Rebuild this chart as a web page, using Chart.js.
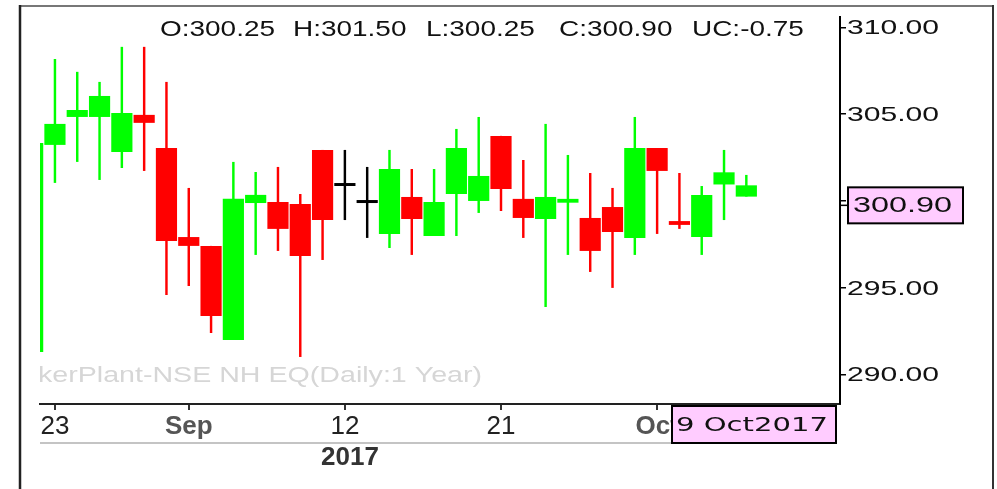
<!DOCTYPE html>
<html>
<head>
<meta charset="utf-8">
<script src="https://cdn.jsdelivr.net/npm/chart.js@4.4.0/dist/chart.umd.min.js"></script>
<style>
  html, body { margin: 0; padding: 0; background: #fff; }
  canvas { display: block; }
</style>
</head>
<body>
<canvas id="chart" width="997" height="489"></canvas>
<script>
// daily candles, 22 Aug - 9 Oct 2017
const dates = [
  '2017-08-22', '2017-08-23', '2017-08-24', '2017-08-28', '2017-08-29', '2017-08-30', '2017-08-31',
  '2017-09-01', '2017-09-04', '2017-09-05', '2017-09-06', '2017-09-07', '2017-09-08',
  '2017-09-11', '2017-09-12', '2017-09-13', '2017-09-14', '2017-09-15',
  '2017-09-18', '2017-09-19', '2017-09-20', '2017-09-21', '2017-09-22',
  '2017-09-25', '2017-09-26', '2017-09-27', '2017-09-28', '2017-09-29',
  '2017-10-03', '2017-10-04', '2017-10-05', '2017-10-06', '2017-10-09'
];
const opens = [291.30, 303.23, 304.84, 304.84, 302.82, 304.96, 303.05, 297.92, 297.41, 291.99, 299.88,
  299.94, 299.83, 302.94, 300.86, 299.88, 298.10, 300.23, 297.98, 300.40, 300.00, 303.75,
  300.12, 298.96, 299.90, 299.02, 299.65, 297.87, 303.05, 298.84, 297.92, 300.95, 300.25];
const highs = [304.20, 308.18, 307.44, 306.86, 308.88, 308.88, 306.86, 300.75, 297.41, 302.25, 301.67,
  301.96, 300.40, 302.94, 302.94, 301.96, 302.94, 301.84, 301.84, 304.15, 304.84, 303.75,
  302.36, 304.44, 302.65, 301.61, 300.75, 304.84, 303.05, 301.61, 300.86, 302.94, 301.50];
const lows = [290.90, 301.04, 302.25, 301.21, 301.90, 301.73, 294.58, 295.10, 292.39, 291.99, 296.89,
  297.12, 291.01, 296.60, 298.90, 297.87, 297.29, 296.89, 297.98, 297.98, 299.31, 299.42,
  297.87, 293.89, 296.89, 295.91, 294.99, 296.89, 298.10, 298.39, 296.89, 298.90, 300.25];
const closes = [303.34, 304.44, 305.24, 306.05, 305.07, 304.50, 297.69, 297.41, 293.37, 300.12, 300.35,
  298.39, 296.83, 298.90, 300.86, 299.88, 301.84, 298.96, 299.94, 303.05, 301.44, 300.69,
  299.02, 300.23, 300.12, 297.12, 298.21, 303.05, 301.73, 298.62, 300.35, 301.65, 300.90];

const tickDates = ['2017-08-23', '2017-09-01', '2017-09-12', '2017-09-21', '2017-10-03'];
const tickLabels = ['23', 'Sep', '12', '21', 'Oct'];
const boldLabels = ['Sep', 'Oct'];
const yTicks = [290, 295, 300, 305, 310];
const monthNames = ['Jan', 'Feb', 'Mar', 'Apr', 'May', 'Jun', 'Jul', 'Aug', 'Sep', 'Oct', 'Nov', 'Dec'];
const yearLabel = '2017';
const sourceLabel = 'TickerPlant-NSE NH EQ(Daily:1 Year)';

const FONT = '"Liberation Sans", Arial, sans-serif';
const GREEN = '#00ff00';
const RED = '#ff0000';

const candleColors = opens.map((o, i) => {
  if (o === closes[i]) return '#000000';
  return closes[i] > o ? GREEN : RED;
});

const bodies = dates.map((d, i) => ({ x: i, y: [opens[i], closes[i]] }));
const wicks = dates.map((d, i) => ({ x: i, y: [lows[i], highs[i]] }));

// draw text squeezed/stretched horizontally
function stretched(ctx, text, x, y, sx) {
  ctx.save();
  ctx.translate(x, y);
  ctx.scale(sx, 1);
  ctx.fillText(text, 0, 0);
  ctx.restore();
}

function line(ctx, x1, y1, x2, y2, color, width) {
  ctx.save();
  ctx.strokeStyle = color;
  ctx.lineWidth = width;
  ctx.beginPath();
  ctx.moveTo(x1, y1);
  ctx.lineTo(x2, y2);
  ctx.stroke();
  ctx.restore();
}

const decorations = {
  id: 'decorations',
  beforeDatasetsDraw(chart) {
    const { ctx, chartArea: a } = chart;
    // faint source watermark, clipped on the left
    ctx.save();
    ctx.beginPath();
    ctx.rect(a.left, a.top, a.right - a.left, a.bottom - a.top);
    ctx.clip();
    ctx.font = '22px ' + FONT;
    ctx.fillStyle = '#d6d6d6';
    ctx.textBaseline = 'middle';
    const hidden = sourceLabel.slice(0, 3);
    const sx = 444 / ctx.measureText(sourceLabel.slice(3)).width;
    stretched(ctx, sourceLabel, 38 - ctx.measureText(hidden).width * sx, 376, sx);
    ctx.restore();
  },
  afterDraw(chart) {
    const { ctx, chartArea: a } = chart;
    const yScale = chart.scales.y;
    const last = dates.length - 1;

    // outer frame
    line(ctx, 20, 6, 993, 6, '#777', 2);
    line(ctx, 20, 5, 20, 489, '#222', 2.5);
    line(ctx, 993, 5, 993, 489, '#333', 2);

    // OHLC header
    ctx.save();
    ctx.font = '22px ' + FONT;
    ctx.fillStyle = '#111';
    ctx.textBaseline = 'middle';
    const header = [
      'O:' + opens[last].toFixed(2),
      'H:' + highs[last].toFixed(2),
      'L:' + lows[last].toFixed(2),
      'C:' + closes[last].toFixed(2),
      'UC:' + (closes[last] - closes[last - 1]).toFixed(2)
    ];
    const hsx = 115 / ctx.measureText(header[0]).width;
    header.forEach((t, i) => stretched(ctx, t, 160 + i * 133, 30, hsx));

    // y tick labels
    ctx.font = '21px ' + FONT;
    const ysx = 92 / ctx.measureText('310.00').width;
    yTicks.forEach(v => {
      stretched(ctx, v.toFixed(2), a.right + 7, yScale.getPixelForValue(v) + 1, ysx);
    });

    // last price box
    const py = yScale.getPixelForValue(closes[last]) + 20;
    line(ctx, a.right, py, a.right + 8, py, '#000', 1.5);
    ctx.fillStyle = '#ffccff';
    ctx.fillRect(848, py - 18, 115, 36);
    ctx.strokeStyle = '#000';
    ctx.lineWidth = 2;
    ctx.strokeRect(848, py - 18, 115, 36);
    ctx.fillStyle = '#111';
    ctx.font = '22px ' + FONT;
    const ptxt = closes[last].toFixed(2);
    stretched(ctx, ptxt, 853, py + 1, 99 / ctx.measureText(ptxt).width);

    // year row
    line(ctx, a.left, 443, 672, 443, '#c4c4c4', 2);
    ctx.font = 'bold 26px ' + FONT;
    ctx.fillStyle = '#333';
    ctx.textAlign = 'center';
    ctx.fillText(yearLabel, 350, 458);
    ctx.textAlign = 'left';

    // last date box
    ctx.fillStyle = '#ffccff';
    ctx.fillRect(672, 406, 164, 37);
    ctx.strokeRect(672, 406, 164, 37);
    const d = new Date(dates[last] + 'T00:00:00');
    const dtxt = d.getDate() + ' ' + monthNames[d.getMonth()] + d.getFullYear();
    ctx.font = '20px "DejaVu Sans", sans-serif';
    ctx.fillStyle = '#111';
    stretched(ctx, dtxt, 676, 426, 152 / ctx.measureText(dtxt).width);
    ctx.restore();
  }
};

const ctx = document.getElementById('chart').getContext('2d');
new Chart(ctx, {
  type: 'bar',
  data: {
    datasets: [
      {
        label: 'Body',
        data: bodies,
        backgroundColor: candleColors,
        borderWidth: 0,
        barPercentage: 1,
        categoryPercentage: 0.95,
        minBarLength: 3,
        grouped: false,
        clip: 0
      },
      {
        label: 'Wick',
        data: wicks,
        backgroundColor: candleColors,
        borderWidth: 0,
        barPercentage: 1,
        categoryPercentage: 0.11,
        grouped: false,
        clip: 0
      }
    ]
  },
  options: {
    responsive: false,
    devicePixelRatio: 1,
    animation: false,
    events: [],
    layout: { padding: { left: 40, top: 17, right: 0, bottom: 0 } },
    plugins: {
      legend: { display: false },
      tooltip: { enabled: false }
    },
    scales: {
      x: {
        type: 'linear',
        min: 0.33,
        max: 36.2,
        offset: false,
        afterBuildTicks: s => { s.ticks = tickDates.map(t => ({ value: dates.indexOf(t) })); },
        afterFit: s => { s.height = 85; },
        ticks: {
          autoSkip: false,
          maxRotation: 0,
          padding: 1,
          callback: (v, i) => tickLabels[i],
          font: c => ({ family: FONT, size: 26, weight: boldLabels.includes(tickLabels[c.index]) ? 'bold' : 'normal' }),
          color: c => boldLabels.includes(tickLabels[c.index]) ? '#555' : '#222'
        },
        grid: { offset: false, drawOnChartArea: false, drawTicks: true, tickLength: 6, color: '#333', lineWidth: 2 },
        border: { display: true, color: '#222', width: 2 }
      },
      y: {
        position: 'right',
        min: 288.3,
        max: 310.6,
        afterBuildTicks: s => { s.ticks = yTicks.map(v => ({ value: v })); },
        afterFit: s => { s.width = 157; },
        ticks: { display: false },
        grid: { drawOnChartArea: false, drawTicks: true, tickLength: 6, color: '#000', lineWidth: 1.5 },
        border: { display: true, color: '#000', width: 2 }
      }
    }
  },
  plugins: [decorations]
});
</script>
</body>
</html>
